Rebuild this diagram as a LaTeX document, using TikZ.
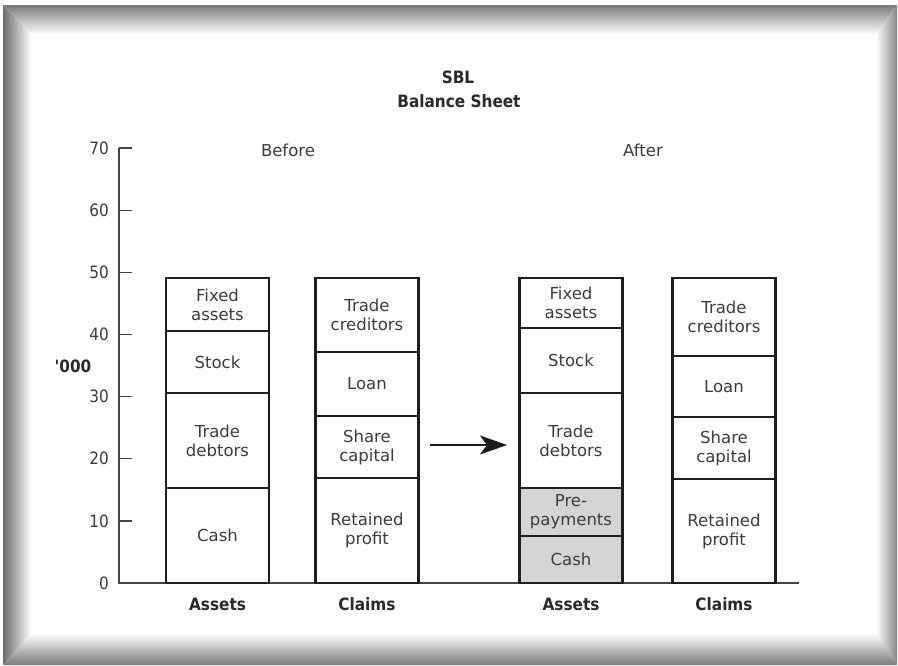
\documentclass[tikz,border=0pt]{standalone}
\usepackage{fontspec}
\setmainfont{DejaVu Sans}
\newfontfamily\condfont{DejaVu Sans Condensed}
\usetikzlibrary{arrows.meta}
\definecolor{txt}{HTML}{3C3C3C}
\definecolor{btxt}{HTML}{2A2A2A}
\definecolor{boxgray}{HTML}{D4D4D4}
\definecolor{edge}{HTML}{1E1E1E}
\definecolor{axisc}{HTML}{444444}
\newcommand\lblfont{\fontsize{16.5}{19}\selectfont}
\newcommand\bldfont{\condfont\bfseries\fontsize{17}{19}\selectfont}
\begin{document}
\begin{tikzpicture}[x=1pt,y=-1pt,
  seg/.style={draw=edge, line width=2.2pt, minimum width=103pt, inner sep=0pt, outer sep=0pt,
              font=\lblfont, text=txt, align=center},
  grayseg/.style={seg, fill=boxgray},
  axisline/.style={draw=axisc, line width=1.3pt},
  ticklbl/.style={font=\condfont\fontsize{17}{19}\selectfont, text=txt, anchor=east, inner sep=0pt},
  plain/.style={font=\lblfont, text=txt, inner sep=0pt},
  boldlbl/.style={font=\bldfont, text=btxt, inner sep=0pt},
  conn/.style={draw=black!90, line width=1.4pt, -{Stealth[length=27pt,width=19pt,inset=7pt]}}]
\useasboundingbox (0,0) rectangle (898,665);
\fill[white] (0,0) rectangle (898,665);
% bevelled frame
\shade[top color=black!52, bottom color=white!97!black] (3,5) -- (897,5) -- (877,33) -- (30,33) -- cycle;
\shade[left color=black!58, right color=white!97!black] (3,5) -- (30,33) -- (30,635) -- (3,665) -- cycle;
\shade[left color=white!97!black, right color=black!48] (897,5) -- (897,665) -- (877,635) -- (877,33) -- cycle;
\shade[top color=white!97!black, bottom color=black!52] (3,665) -- (30,635) -- (877,635) -- (897,665) -- cycle;
% title
\node[boldlbl, anchor=base] (t1) at (458,83) {SBL};
\node[boldlbl, anchor=base] (t2) at (459,107) {Balance Sheet};
% axis
\coordinate (o) at (119,583);
\coordinate (ytop) at (119,148);
\coordinate (xend) at (799,583);
\draw[axisline] (ytop) -- (o) -- (xend);
\foreach \v in {10,20,...,70}{
  \coordinate (tk\v) at (119,{583-6.214*\v});
  \coordinate (tke\v) at (132,{583-6.214*\v});
  \draw[axisline] (tk\v) -- (tke\v);
  \node[ticklbl] (n\v) at (109,{583-6.214*\v}) {\v};
}
\node[ticklbl] (n0) at (109,583) {0};
\node[boldlbl] (unit) at (73,366) {\textquotesingle000};
\node[plain] (before) at (288,150) {Before};
\node[plain] (after) at (643,150) {After};
% before assets
\node[seg, minimum height=53pt] (ba1) at (217.5,304.5) {Fixed\\assets};
\node[seg, minimum height=62pt] (ba2) at (217.5,362) {Stock};
\node[seg, minimum height=95pt] (ba3) at (217.5,440.5) {Trade\\debtors};
\node[seg, minimum height=95pt] (ba4) at (217.5,535.5) {Cash};
% before claims
\node[seg, minimum height=74pt] (bc1) at (367,315) {Trade\\creditors};
\node[seg, minimum height=64pt] (bc2) at (367,384) {Loan};
\node[seg, minimum height=62pt] (bc3) at (367,447) {Share\\capital};
\node[seg, minimum height=105pt] (bc4) at (367,530.5) {Retained\\profit};
% after assets
\node[seg, minimum height=50pt] (aa1) at (571,303) {Fixed\\assets};
\node[seg, minimum height=65pt] (aa2) at (571,360.5) {Stock};
\node[seg, minimum height=95pt] (aa3) at (571,440.5) {Trade\\debtors};
\node[grayseg, minimum height=48pt] (aa4) at (571,512) {Pre-\\payments};
\node[grayseg, minimum height=47pt] (aa5) at (571,559.5) {Cash};
% after claims
\node[seg, minimum height=78pt] (ac1) at (724,317) {Trade\\creditors};
\node[seg, minimum height=61pt] (ac2) at (724,386.5) {Loan};
\node[seg, minimum height=62pt] (ac3) at (724,448) {Share\\capital};
\node[seg, minimum height=104pt] (ac4) at (724,531) {Retained\\profit};
% bottom labels
\node[boldlbl] (l1) at (217.5,604) {Assets};
\node[boldlbl] (l2) at (367,604) {Claims};
\node[boldlbl] (l3) at (571,604) {Assets};
\node[boldlbl] (l4) at (724,604) {Claims};
% arrow
\coordinate (arrS) at (430,445);
\coordinate (arrE) at (507,445);
\draw[conn] (arrS) -- (arrE);
\end{tikzpicture}
\end{document}
